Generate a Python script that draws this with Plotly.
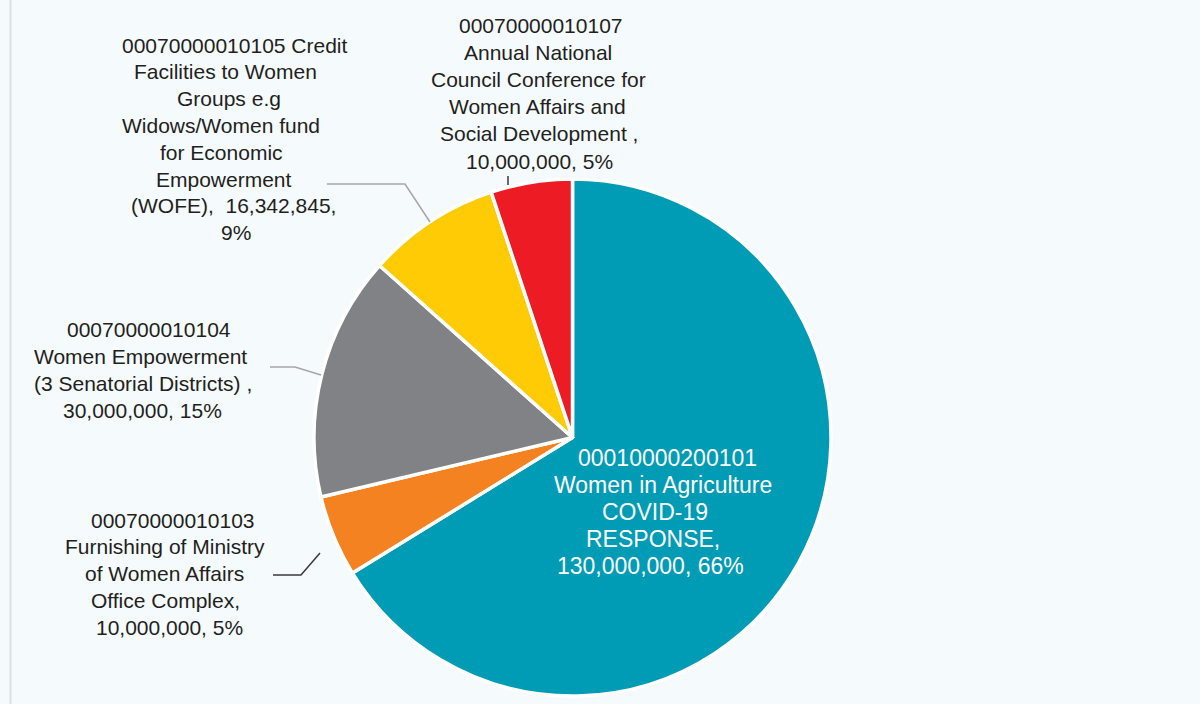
import plotly.graph_objects as go

# Budget lines (code + description) and their allocations
codes = ["00010000200101", "00070000010103", "00070000010104", "00070000010105", "00070000010107"]
amounts = [130000000, 10000000, 30000000, 16342845, 10000000]
pct_labels = ["66%", "5%", "15%", "9%", "5%"]
colors = ["#009bb5", "#f58220", "#808285", "#ffcb05", "#ed1c24"]

# Label text, line by line; {code}, {amt} and {pct} are filled from the arrays above
label_lines = [
    ["{code}", "Women in Agriculture", "COVID-19", "RESPONSE,", "{amt}, {pct}"],
    ["{code}", "Furnishing of Ministry", "of Women Affairs", "Office Complex,", "{amt}, {pct}"],
    ["{code}", "Women Empowerment", "(3 Senatorial Districts) ,", "{amt}, {pct}"],
    ["{code} Credit", "Facilities to Women", "Groups e.g", "Widows/Women fund",
     "for Economic", "Empowerment", "(WOFE),  {amt},", "{pct}"],
    ["{code}", "Annual National", "Council Conference for", "Women Affairs and",
     "Social Development ,", "{amt}, {pct}"],
]

W, H = 1200, 704
BG = "#f5fafd"
CX, CY, R = 572.5, 437.5, 258.5


def px(x):
    return x / W


def py(y):
    return 1 - y / H


fig = go.Figure()
fig.add_trace(go.Pie(
    labels=codes,
    values=amounts,
    sort=False,
    direction="clockwise",
    rotation=0,
    marker=dict(colors=colors, line=dict(color="white", width=3.5)),
    textinfo="none",
    hoverinfo="skip",
    showlegend=False,
    domain=dict(x=[px(CX - R), px(CX + R)], y=[py(CY + R), py(CY - R)]),
))

# label placement: per-line centre x, first-line y, line step, font size, colour
placements = [
    dict(xs=[667, 663.5, 655, 653, 650.5], y=458, step=27, size=23, color="#ffffff"),
    dict(xs=[173, 164.5, 164.5, 165, 169], y=520, step=26.8, size=21, color="#231f20"),
    dict(xs=[148.5, 140.5, 142.5, 142], y=329, step=27, size=21, color="#231f20"),
    dict(xs=[234.5, 225, 229, 220.5, 221.5, 223.5, 233.5, 236], y=45, step=26.8,
         size=21, color="#231f20"),
    dict(xs=[541, 537.7, 538.5, 537.5, 538.5, 539.3], y=25, step=27.2, size=21,
         color="#231f20"),
]

annotations = []
for i, lines in enumerate(label_lines):
    p = placements[i]
    for k, line in enumerate(lines):
        txt = line.format(code=codes[i], amt=f"{amounts[i]:,}", pct=pct_labels[i])
        annotations.append(dict(
            x=px(p["xs"][k]), y=py(p["y"] + k * p["step"]), xref="paper", yref="paper",
            text=txt, showarrow=False, xanchor="center", yanchor="middle",
            font=dict(family="Liberation Sans, Arial, sans-serif", size=p["size"], color=p["color"]),
        ))

# leader lines from labels to slices
leaders = [
    ([(273, 575), (301, 575), (320, 553)], "#3a3a3a"),
    ([(270, 367), (295, 367), (321, 375)], "#a6a6a6"),
    ([(327, 184), (405, 184), (430, 222)], "#a6a6a6"),
    ([(508, 176), (508, 185)], "#3a3a3a"),
]
shapes = []
for pts, col in leaders:
    path = "M " + " L ".join(f"{px(a):.5f},{py(b):.5f}" for a, b in pts)
    shapes.append(dict(type="path", xref="paper", yref="paper", path=path,
                       line=dict(color=col, width=1.5)))

# thin frame line on the left edge
shapes.append(dict(type="line", xref="paper", yref="paper",
                   x0=px(10.5), x1=px(10.5), y0=0, y1=1,
                   line=dict(color="#dcdfe2", width=2)))

fig.update_layout(
    width=W, height=H,
    margin=dict(l=0, r=0, t=0, b=0),
    paper_bgcolor=BG, plot_bgcolor=BG,
    annotations=annotations,
    shapes=shapes,
)

fig.write_html("out.html")
